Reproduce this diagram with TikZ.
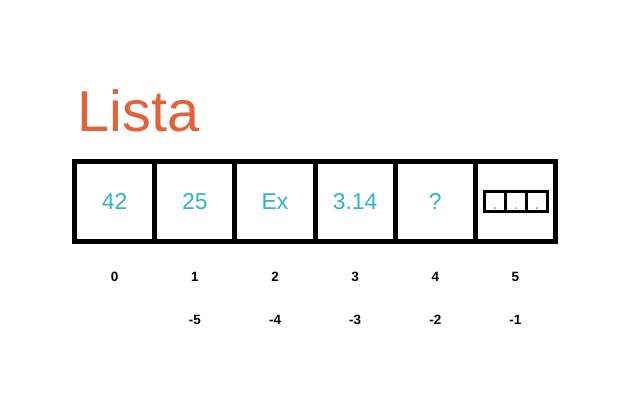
\documentclass[tikz,border=0pt]{standalone}
\usepackage{fontspec}
\setmainfont{Liberation Sans}
\usetikzlibrary{positioning,calc}
\definecolor{titleorange}{HTML}{E0633A}
\definecolor{itemcyan}{HTML}{2DB4C6}
\tikzset{
	cell/.style={draw,line width=5bp,minimum width=80.2bp,minimum height=80bp,inner sep=0pt,
		font=\fontsize{23}{23}\selectfont,text=itemcyan},
	subcell/.style={draw,line width=3bp,minimum width=21.2bp,minimum height=20.7bp,inner sep=0pt,
		font=\fontsize{16}{16}\selectfont,text=itemcyan,text height=15bp,text depth=0pt},
	idx/.style={font=\fontsize{13.5}{13.5}\selectfont\bfseries,inner sep=0pt,anchor=base}
}

\begin{document}
\begin{tikzpicture}[x=1bp,y=-1bp]
	\useasboundingbox (0,0) rectangle (624,416);
	
	%title
	\node[anchor=base west,inner sep=0pt,text=titleorange,font=\fontsize{58}{58}\selectfont] (title) at (77,131) {Lista};
	
	%list cells
	\node[cell] (c0) at (114.6,201.5) {42};
	\node[cell] (c1) at (194.8,201.5) {25};
	\node[cell] (c2) at (275.0,201.5) {Ex};
	\node[cell] (c3) at (355.1,201.5) {3.14};
	\node[cell] (c4) at (435.3,201.5) {?};
	\node[cell] (c5) at (515.4,201.5) {};
	
	%nested list in last cell
	\node[subcell] (s0) at (495.2,201.6) {.};
	\node[subcell] (s1) at (515.9,201.6) {.};
	\node[subcell] (s2) at (537.1,201.6) {.};
	
	%positive indices
	\foreach \i in {0,...,5}
		\node[idx] (p\i) at ($(c\i.center)+(0,80)$) {\i};
	
	%negative indices
	\foreach \i/\n in {1/-5,2/-4,3/-3,4/-2,5/-1}
		\node[idx] (n\i) at ($(c\i.center)+(0,122.5)$) {\n};
	
	%\draw[help lines] (0,0) grid[step=20] (624,416);
\end{tikzpicture}
\end{document}
